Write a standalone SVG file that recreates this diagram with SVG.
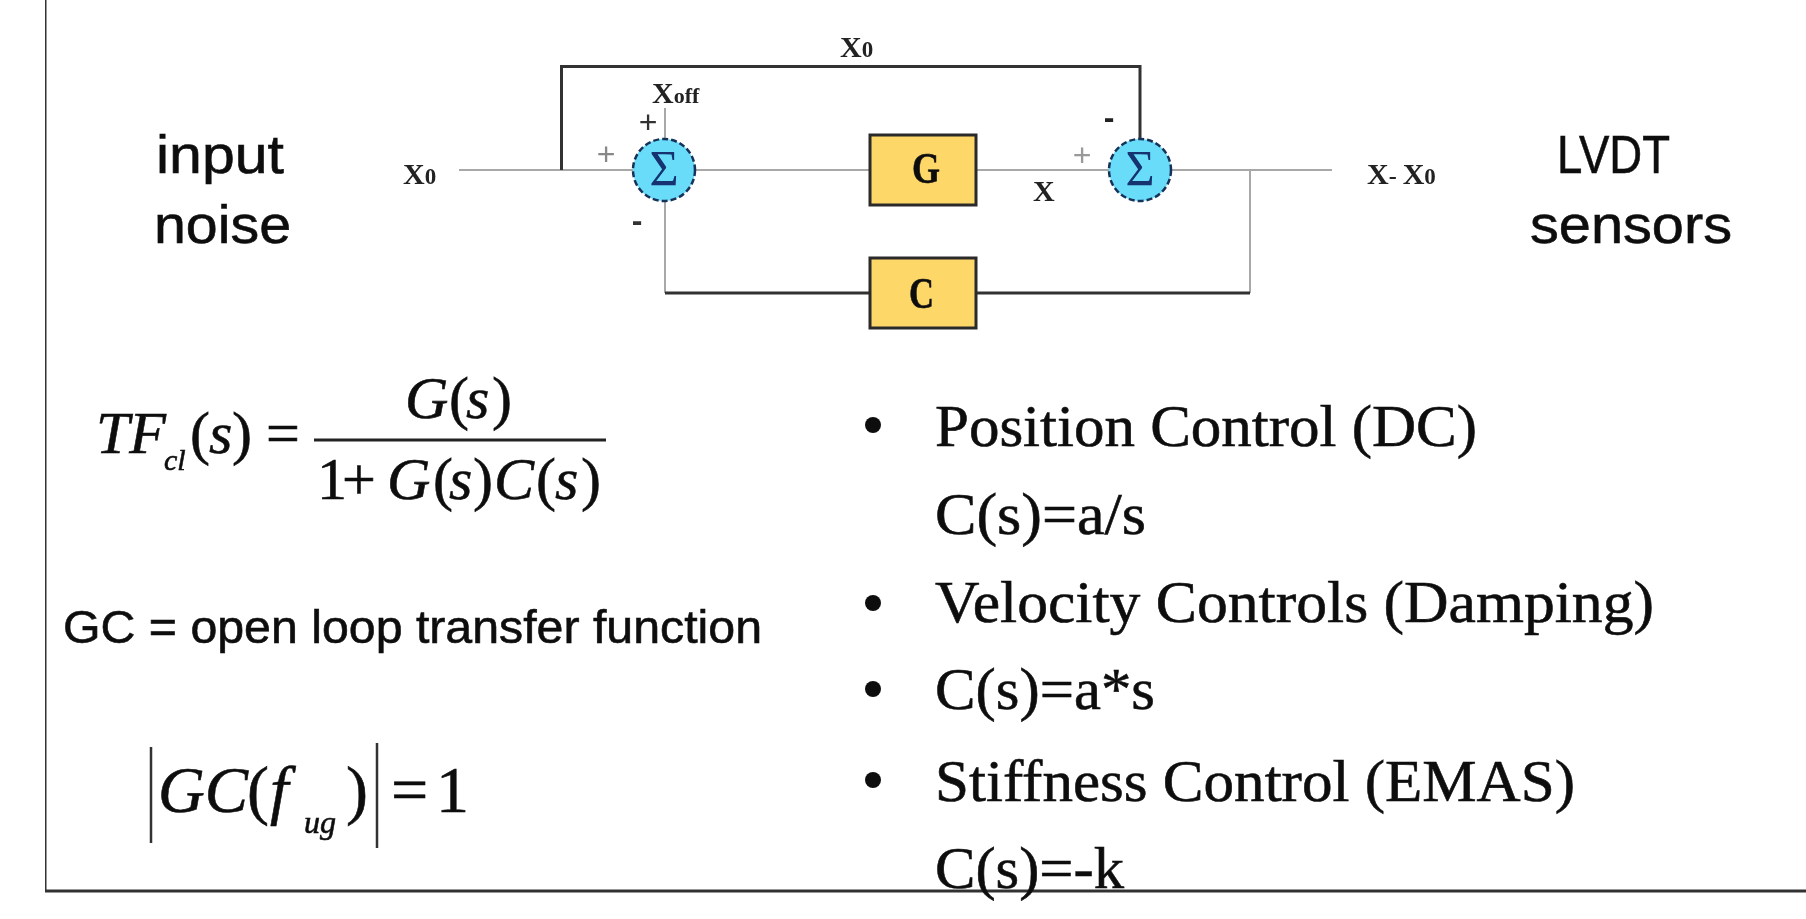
<svg xmlns="http://www.w3.org/2000/svg" width="1806" height="919" viewBox="0 0 1806 919">
<style>
.ser{font-family:"Liberation Serif",serif;fill:#111;stroke:#111;stroke-width:.6}
.b{font-weight:bold}
.lab{font-family:"Liberation Serif",serif;font-weight:bold;fill:#222;font-size:30px}
.sans{font-family:"Liberation Sans",Arial,sans-serif;fill:#111;stroke:#111;stroke-width:.6}
.it{font-style:italic}
.blt{font-size:60px}
.eq{font-size:60px}
.thin{fill:none;stroke:#a8a8a8;stroke-width:2}
.dark{fill:none;stroke:#333;stroke-width:3}
.box{fill:#fdd768;stroke:#2a2a2a;stroke-width:3}
.sum{fill:#68dcf8;stroke:#16325a;stroke-width:2.5;stroke-dasharray:6 3}
.sig{font-family:"Liberation Serif",serif;font-size:50px;fill:#123070;text-anchor:middle}
.plus{font-family:"Liberation Sans",sans-serif;font-size:32px;text-anchor:middle}
</style>
<defs><filter id="soft" x="0" y="0" width="1" height="1" filterUnits="objectBoundingBox"><feGaussianBlur stdDeviation="0.6"/></filter></defs>
<rect width="1806" height="919" fill="#fff"/>
<g filter="url(#soft)">
<g id="frame"><path d="M45 0V891H1806" fill="none" stroke="#333" stroke-width="3"/></g>
<g id="connectors">
<path class="thin" d="M459 170H633M695 170H870M976 170H1109M1171 170H1332"/>
<path class="thin" d="M665 108V139M665 201V293M1250 170V293"/>
<path class="dark" d="M561.500 170V66.500H1140V139"/>
<path class="dark" d="M665 293H870M976 293H1250"/>
</g>
<g id="sum1"><circle class="sum" cx="664" cy="170" r="31"/><text class="sig" x="664" y="185">Σ</text></g>
<g id="sum2"><circle class="sum" cx="1140" cy="170" r="31"/><text class="sig" x="1140" y="185">Σ</text></g>
<g id="blockG"><rect class="box" x="870" y="135" width="106" height="70"/><text class="ser b" font-size="44" x="912" y="183" textLength="28" lengthAdjust="spacingAndGlyphs">G</text></g>
<g id="blockC"><rect class="box" x="870" y="258" width="106" height="70"/><text class="ser b" font-size="44" x="909" y="308" textLength="25" lengthAdjust="spacingAndGlyphs">C</text></g>
<g id="labels">
<text class="lab" x="403" y="184">X<tspan font-size="23">0</tspan></text>
<text class="lab" x="840" y="57">X<tspan font-size="23">0</tspan></text>
<text class="lab" x="652" y="103">X<tspan font-size="22">off</tspan></text>
<text class="lab" x="1033" y="201">X</text>
<text class="lab" x="1367" y="184" font-size="28">X<tspan font-size="24">- </tspan>X<tspan font-size="23">0</tspan></text>
<text class="plus" x="648" y="133" fill="#333">+</text>
<text class="plus" x="606" y="165" fill="#888">+</text>
<text class="plus" x="637" y="231" fill="#333" font-weight="bold">-</text>
<text class="plus" x="1109" y="128" fill="#222" font-weight="bold">-</text>
<text class="plus" x="1082" y="166" fill="#999">+</text>
</g>
<g id="sideLabels">
<text class="sans" font-size="54" x="156" y="173" textLength="128" lengthAdjust="spacingAndGlyphs">input</text>
<text class="sans" font-size="54" x="154" y="243" textLength="137" lengthAdjust="spacingAndGlyphs">noise</text>
<text class="sans" font-size="54" x="1557" y="173" textLength="113" lengthAdjust="spacingAndGlyphs">LVDT</text>
<text class="sans" font-size="54" x="1530" y="243" textLength="202" lengthAdjust="spacingAndGlyphs">sensors</text>
<text class="sans" font-size="46" x="63" y="643" textLength="699" lengthAdjust="spacingAndGlyphs">GC = open loop transfer function</text>
</g>
<g id="formula1">
<text class="ser eq it" x="96" y="453">TF</text>
<text class="ser it" font-size="30" x="164" y="470">cl</text>
<text class="ser eq" y="453"><tspan x="190">(</tspan><tspan x="209" class="it">s</tspan><tspan x="232">)</tspan><tspan x="266">=</tspan></text>
<text class="ser eq" y="418"><tspan x="405" class="it">G</tspan><tspan x="449">(</tspan><tspan x="466" class="it">s</tspan><tspan x="492">)</tspan></text>
<path d="M314 440H606" stroke="#222" stroke-width="3"/>
<text class="ser eq" y="499"><tspan x="317">1</tspan><tspan x="342">+</tspan><tspan x="387" class="it">G</tspan><tspan x="433">(</tspan><tspan x="449" class="it">s</tspan><tspan x="473">)</tspan><tspan x="494" class="it">C</tspan><tspan x="536">(</tspan><tspan x="555" class="it">s</tspan><tspan x="581">)</tspan></text>
</g>
<g id="formula2">
<path d="M151 747V843M377 743V848" stroke="#333" stroke-width="2.500" fill="none"/>
<text class="ser it" font-size="66" x="158" y="812" textLength="90" lengthAdjust="spacingAndGlyphs">GC</text>
<text class="ser" font-size="66" x="247" y="812">(<tspan x="270" class="it">f</tspan></text>
<text class="ser it" font-size="32" x="304" y="833">ug</text>
<text class="ser" font-size="66" x="346" y="812">)</text>
<text class="ser" font-size="66" x="391" y="812">=<tspan x="436">1</tspan></text>
</g>
<g id="bullets">
<circle cx="873" cy="425" r="8" fill="#111"/>
<circle cx="873" cy="603" r="8" fill="#111"/>
<circle cx="873" cy="689" r="8" fill="#111"/>
<circle cx="873" cy="780" r="8" fill="#111"/>
<text class="ser blt" x="935" y="446" textLength="542" lengthAdjust="spacingAndGlyphs">Position Control (DC)</text>
<text class="ser blt" x="935" y="534" textLength="211" lengthAdjust="spacingAndGlyphs">C(s)=a/s</text>
<text class="ser blt" x="935" y="622" textLength="719" lengthAdjust="spacingAndGlyphs">Velocity Controls (Damping)</text>
<text class="ser blt" x="935" y="709" textLength="220" lengthAdjust="spacingAndGlyphs">C(s)=a*s</text>
<text class="ser blt" x="935" y="801" textLength="640" lengthAdjust="spacingAndGlyphs">Stiffness Control (EMAS)</text>
<text class="ser blt" x="935" y="888" textLength="189" lengthAdjust="spacingAndGlyphs">C(s)=-k</text>
</g>
</g>
</svg>
